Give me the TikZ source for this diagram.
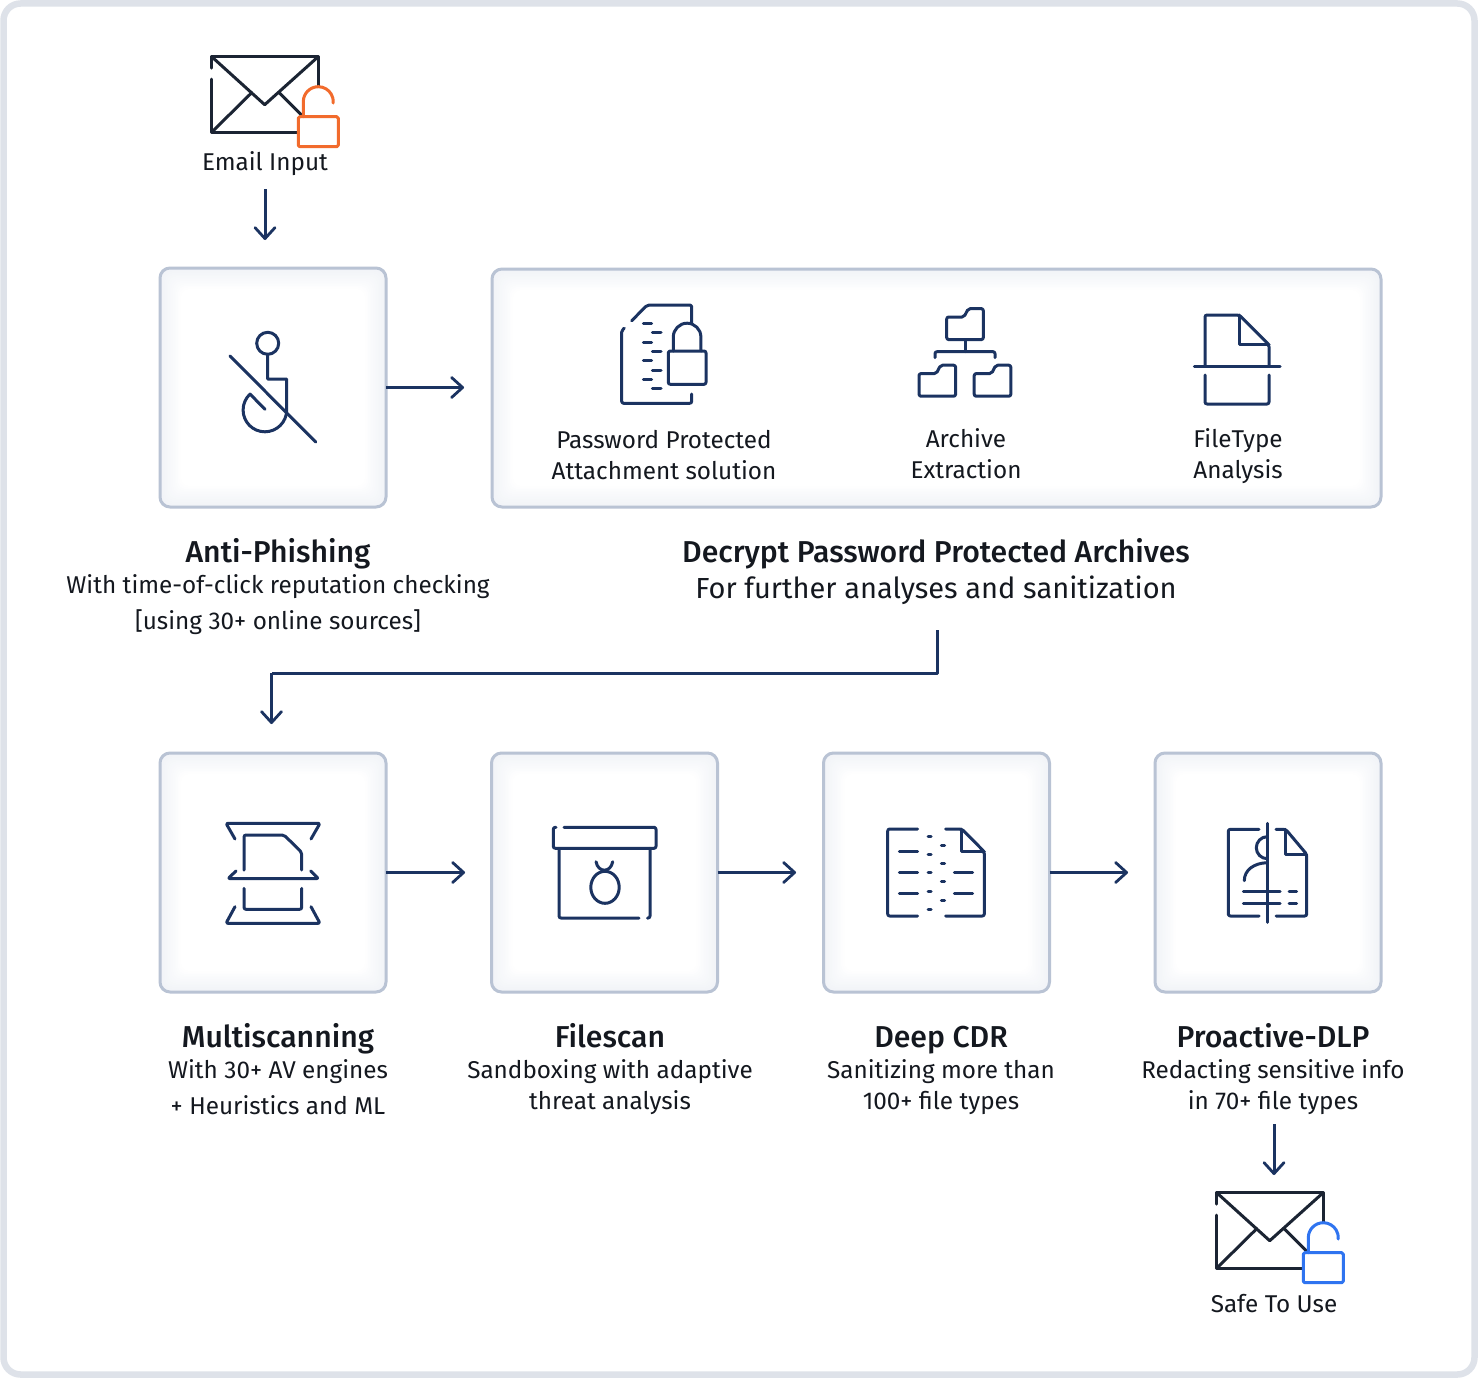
\documentclass[tikz,border=0pt]{standalone}
\usepackage{fontspec}
\setmainfont{Fira Sans}
\newfontfamily\titlefont{Fira Sans}[UprightFont=* Medium]
\usetikzlibrary{arrows.meta,calc}
\definecolor{navy}{HTML}{1B3361}
\definecolor{inkdark}{HTML}{1B2433}
\definecolor{framegray}{HTML}{DEE2E9}
\definecolor{boxborder}{HTML}{B9C3D4}
\definecolor{glowcol}{HTML}{F1F3F7}
\definecolor{lockorange}{HTML}{F26B2C}
\definecolor{lockblue}{HTML}{2F74F0}
\definecolor{textink}{HTML}{14181F}
\tikzset{
  x=1pt,y=-1pt,
  conn/.style={draw=navy,line width=3pt,-{Straight Barb[length=11pt,width=20pt,line width=2.8pt,round]}},
  connline/.style={draw=navy,line width=3pt,line join=round},
  icon/.style={draw=navy,line width=3pt,line cap=round,line join=round,rounded corners=2pt},
  sharp/.style={draw=navy,line width=3pt,line cap=round,line join=round,sharp corners},
  envline/.style={draw=inkdark,line width=3pt,line cap=round,line join=round},
  boxnode/.style={draw=boxborder,line width=3pt,rounded corners=10pt,inner sep=0pt,outer sep=0pt,fill=none},
  body/.style={font=\fontsize{24.3}{31}\selectfont,text=textink,align=center,inner sep=0pt,anchor=base},
  bodywide/.style={font=\fontsize{24.3}{36.5}\selectfont,text=textink,align=center,inner sep=0pt,anchor=base},
  head/.style={font=\titlefont\fontsize{30.2}{35}\selectfont,text=textink,align=center,inner sep=0pt,anchor=base},
  subhead/.style={font=\fontsize{29}{35}\selectfont,text=textink,align=center,inner sep=0pt,anchor=base},
}
\newcommand{\softbox}[5]{%
  \foreach \i in {0,...,13}{%
    \pgfmathtruncatemacro{\pct}{100-\i*7.5}%
    \pgfmathsetmacro{\ins}{\i*1.6}%
    \fill[glowcol!\pct!white,rounded corners=9pt] ({#2-#4/2+\ins},{#3-#5/2+\ins}) rectangle ({#2+#4/2-\ins},{#3+#5/2-\ins});
  }%
  \node[boxnode,minimum width=#4pt,minimum height=#5pt] (#1) at (#2,#3) {};%
}
\newcommand{\envicon}[3]{%
  \begin{scope}[shift={(#1,#2)}]
    \draw[envline] (0,11.5) -- (0,0) -- (106.5,0) -- (106.5,29.5);
    \draw[envline] (0,22.5) -- (0,75.5) -- (85.5,75.5);
    \draw[envline] (0,0) -- (53,48) -- (106.5,0);
    \draw[envline] (0,75.5) -- (40,36);
    \draw[envline] (67.5,36) -- (90,58.5);
    \fill[white] (86.6,60) rectangle (126.6,90);
    \draw[draw=#3,line width=3pt,line join=round,rounded corners=1.5pt] (86.6,60) rectangle (126.6,90);
    \draw[draw=#3,line width=3pt,line cap=round] (91.6,60) -- (91.6,45) arc[start angle=180,end angle=-5,radius=15pt];
  \end{scope}%
}
\newcommand{\foldericon}[2]{%
  \draw[icon,shift={(#1,#2)}] (0,31) -- (0,8.4) -- (17.3,8.4) -- (21.6,0) -- (36.6,0) -- (36.6,31) -- cycle;%
}
\begin{document}
\begin{tikzpicture}
\useasboundingbox (0,0) rectangle (1478,1378);
\fill[white] (0,0) rectangle (1478,1378);
\draw[framegray,line width=6.5pt,rounded corners=17pt] (3.5,3.5) rectangle (1474.5,1374.5);

% boxes
\softbox{antiBox}{273}{387.5}{226}{239}
\softbox{decryptBox}{936.5}{388}{889}{238}
\softbox{multiBox}{273}{872.5}{226}{239}
\softbox{fileBox}{604.5}{872.5}{226}{239}
\softbox{cdrBox}{936.5}{872.5}{226}{239}
\softbox{dlpBox}{1268}{872.5}{226}{239}

% labels
\node[body] (emailLabel) at (265,171) {Email Input};
\node[body] (safeLabel) at (1274,1312) {Safe To Use};
\node[head] (antiTitle) at (278,562) {Anti-Phishing};
\node[bodywide] (antiText) at (278,629.5) {With time-of-click reputation checking\\{[}using 30+ online sources{]}};
\node[head] (decryptTitle) at (936,562) {Decrypt Password Protected Archives};
\node[subhead] (decryptText) at (936,598.5) {For further analyses and sanitization};
\node[body] (pwLabel) at (664,479) {Password Protected\\Attachment solution};
\node[body] (archLabel) at (966,478.5) {Archive\\Extraction};
\node[body] (typeLabel) at (1238,478.5) {FileType\\Analysis};
\node[head] (multiTitle) at (278,1047) {Multiscanning};
\node[bodywide] (multiText) at (278,1114.5) {With 30+ AV engines\\+ Heuristics and ML};
\node[head] (fileTitle) at (610,1047) {Filescan};
\node[body] (fileText) at (610,1109) {Sandboxing with adaptive\\threat analysis};
\node[head] (cdrTitle) at (941,1047) {Deep CDR};
\node[body] (cdrText) at (941,1109) {Sanitizing more than\\100+ file types};
\node[head] (dlpTitle) at (1273,1047) {Proactive-DLP};
\node[body] (dlpText) at (1273,1109) {Redacting sensitive info\\in 70+ file types};

% connectors
\coordinate (emailOut) at (265,189);
\coordinate (antiIn) at (265,240);
\coordinate (antiEnd) at (464,387.5);
\coordinate (elbowStart) at (937.5,630);
\coordinate (elbowMid) at (271.5,673);
\coordinate (multiIn) at (271.5,724);
\coordinate (multiEnd) at (465,872.5);
\coordinate (fileEnd) at (796,872.5);
\coordinate (cdrEnd) at (1128,872.5);
\coordinate (dlpOut) at (1274,1124);
\coordinate (safeIn) at (1274,1175);
\draw[conn] (emailOut) -- (antiIn);
\draw[conn] (antiBox.east) -- (antiEnd);
\draw[connline] (elbowStart) |- (elbowMid);
\draw[conn] (elbowMid) -- (multiIn);
\draw[conn] (multiBox.east) -- (multiEnd);
\draw[conn] (fileBox.east) -- (fileEnd);
\draw[conn] (cdrBox.east) -- (cdrEnd);
\draw[conn] (dlpOut) -- (safeIn);

% envelopes
\envicon{211.7}{56.7}{lockorange}
\envicon{1216.7}{1192.7}{lockblue}

% anti-phishing icon
\draw[sharp] (267.7,343.3) circle[radius=11pt];
\draw[sharp] (267.7,354.3) -- (267.7,379) -- (286.7,379) -- (286.7,410) arc[start angle=0,end angle=-227,radius=21.8pt] -- (265,409.3);
\draw[sharp] (230,356) -- (315.7,442);

% password protected attachment icon
\draw[icon] (631.7,320.7) -- (647.3,305) -- (691.7,305) -- (691.7,323);
\draw[icon] (624.3,328.3) -- (621.7,330) -- (621.7,403.3) -- (691.7,403.3) -- (691.7,394);
\foreach \yy in {323.3,342.3,360.7,379.3}{\draw[sharp] (643.3,\yy) -- (651.7,\yy);}
\foreach \yy in {332.7,351.7,370,388.7}{\draw[sharp] (652.3,\yy) -- (661,\yy);}
\draw[icon] (668.3,351) rectangle (706,384.3);
\draw[sharp] (673.3,351) -- (673.3,337) arc[start angle=180,end angle=0,radius=13.8pt] -- (701,351);

% archive icon
\foldericon{946.7}{308.6}
\foldericon{919}{365.2}
\foldericon{974.2}{365.2}
\draw[sharp] (965,340) -- (965,351.7);
\draw[icon] (935,357.7) -- (935,351.7) -- (995,351.7) -- (995,357.7);

% filetype icon
\draw[icon] (1205,366) -- (1205,315) -- (1239.3,315) -- (1269,344.7) -- (1269,366);
\draw[sharp] (1239.3,315) -- (1239.3,344.7) -- (1269,344.7);
\draw[sharp] (1194.3,366) -- (1280,366);
\draw[icon] (1205,375) -- (1205,404) -- (1269,404) -- (1269,375);

% multiscan icon
\draw[icon] (235,839) -- (226,823.3) -- (320,823.3) -- (311,839);
\draw[icon] (244,870) -- (244,835) -- (284,835) -- (301.7,852.3) -- (301.7,870);
\draw[icon] (236,871) -- (228,878.6) -- (318.5,878.6) -- (310.7,871);
\draw[icon] (244,888.3) -- (244,909.3) -- (301.7,909.3) -- (301.7,888.3);
\draw[icon] (235,906.7) -- (226,923.3) -- (320,923.3) -- (311,906.7);

% filescan icon
\draw[icon] (564,827.3) -- (656,827.3) -- (656,848.3) -- (553.3,848.3) -- (553.3,827.3) -- (556,827.3);
\draw[icon] (559,848.3) -- (559,918) -- (639,918);
\draw[icon] (647.5,918) -- (650,918) -- (650,848.3);
\draw[sharp] (605,887.3) ellipse[x radius=14.2pt,y radius=16pt];
\draw[sharp] (596,861.7) .. controls (598,873) and (610.7,873) .. (612.7,861.7);

% deep cdr icon
\draw[icon] (917.7,829) -- (887.7,829) -- (887.7,916) -- (917.7,916);
\draw[icon] (945.7,829) -- (961.7,829) -- (984.3,851.7) -- (984.3,916) -- (945.7,916);
\draw[sharp] (961.7,829) -- (961.7,851.7) -- (984.3,851.7);
\foreach \yy in {851.7,872.3,893}{\draw[sharp] (899.3,\yy) -- (917.7,\yy);}
\foreach \yy in {872.3,893}{\draw[sharp] (954.3,\yy) -- (972.7,\yy);}
\foreach \yy in {836,854.3,872.3,891,909.3}{\draw[sharp] (928,\yy) -- (931,\yy);}
\foreach \yy in {845,863.3,881.7,900}{\draw[sharp] (941.4,\yy) -- (944.6,\yy);}

% proactive dlp icon
\draw[icon] (1259,829.3) -- (1228.3,829.3) -- (1228.3,916) -- (1259,916);
\draw[icon] (1276,829.3) -- (1285.7,829.3) -- (1306.7,854.3) -- (1306.7,916) -- (1276,916);
\draw[sharp] (1285.7,829.3) -- (1285.7,854.3) -- (1306.7,854.3);
\draw[sharp] (1267.3,823.3) -- (1267.3,922.3);
\draw[sharp] (1267.3,836.7) arc[start angle=90,end angle=270,radius=11pt];
\draw[sharp] (1244.3,880.7) .. controls (1244.3,870) and (1254,863) .. (1267.3,862.7);
\foreach \yy in {891,903.3}{
  \draw[sharp] (1243.3,\yy) -- (1280,\yy);
  \draw[sharp] (1289,\yy) -- (1296.7,\yy);
}
\end{tikzpicture}
\end{document}
